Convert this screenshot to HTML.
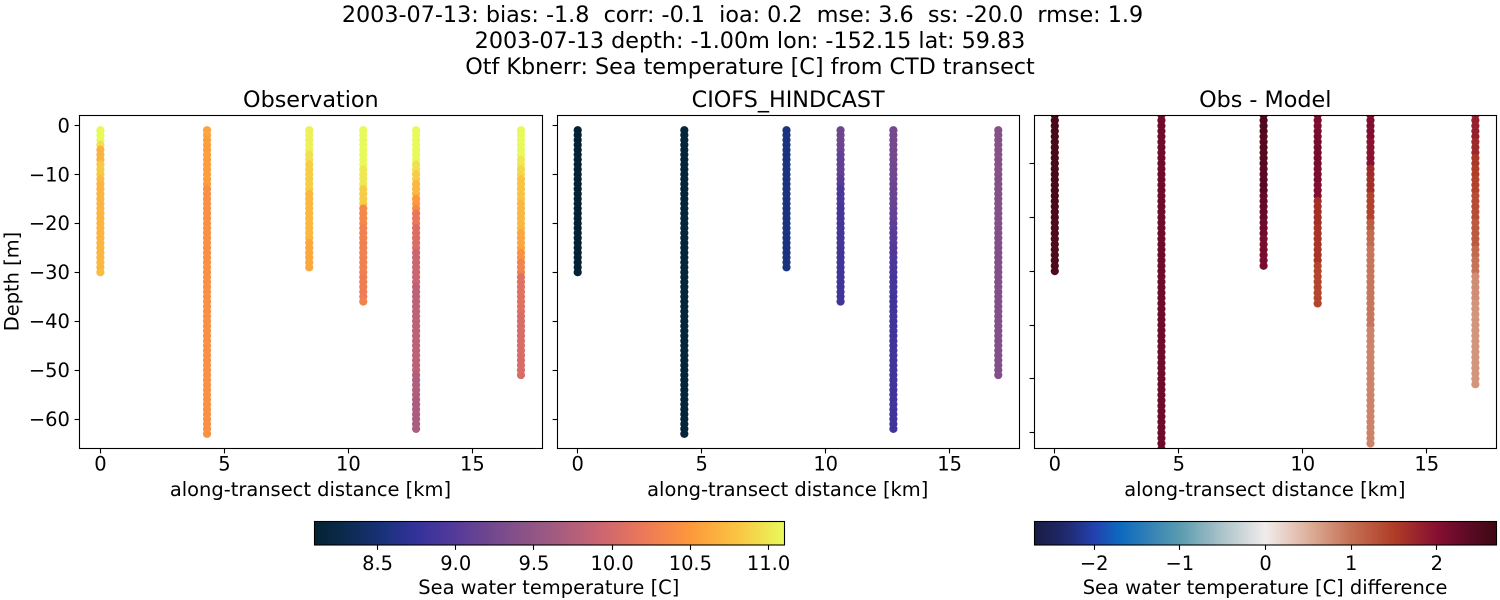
<!DOCTYPE html>
<html lang="en">
<head>
<meta charset="utf-8">
<title>CTD transect comparison</title>
<style>
html,body{margin:0;padding:0;background:#fff;width:1500px;height:600px;overflow:hidden}
svg{display:block}
text{font-family:"DejaVu Sans","Liberation Sans",sans-serif;fill:#000;white-space:pre}
</style>
</head>
<body>
<svg id="chart" xmlns="http://www.w3.org/2000/svg" width="1500" height="600" viewBox="0 0 1500 600">
  <rect width="1500" height="600" fill="#fff"/>
  <text x="742.5" y="22" text-anchor="middle" font-size="22.28" xml:space="preserve">2003-07-13: bias: -1.8  corr: -0.1  ioa: 0.2  mse: 3.6  ss: -20.0  rmse: 1.9</text>
  <text x="750" y="48" text-anchor="middle" font-size="22.28">2003-07-13 depth: -1.00m lon: -152.15 lat: 59.83</text>
  <text x="750" y="74" text-anchor="middle" font-size="22.28">Otf Kbnerr: Sea temperature [C] from CTD transect</text>
  <g id="panels"></g>
  <g id="bars"></g>
</svg>
<script>
const stationKm = [0, 4.3, 8.42, 10.6, 12.73, 16.96];

const obsStation0 = [11.1,11.1,11.1,10.95,10.68,10.68,10.68,10.83,10.83,10.83,
  10.75,10.7,10.7,10.7,10.7,10.7,10.7,10.7,10.7,10.7,
  10.7,10.7,10.7,10.7,10.7,10.7,10.7,10.72,10.72,10.75];
const obsStation1 = [10.58,10.58,10.53,10.53,10.53,10.53,10.53,10.53,10.53,10.53,
  10.53,10.53,10.42,10.42,10.42,10.42,10.42,10.42,10.42,10.42,
  10.42,10.42,10.42,10.42,10.42,10.42,10.42,10.42,10.42,10.42,
  10.42,10.42,10.42,10.42,10.42,10.42,10.42,10.42,10.42,10.42,
  10.42,10.42,10.42,10.42,10.42,10.42,10.42,10.42,10.42,10.42,
  10.42,10.42,10.42,10.42,10.42,10.42,10.42,10.42,10.42,10.42,
  10.42,10.42,10.42];
const obsStation2 = [11.05,11.05,11.05,11.05,11.05,10.95,10.95,10.85,10.85,10.85,
  10.85,10.85,10.85,10.72,10.72,10.72,10.72,10.72,10.72,10.72,
  10.72,10.72,10.72,10.6,10.6,10.6,10.6,10.6,10.6];
const obsStation3 = [11.1,11.1,11.1,11.1,11.1,11.1,11.1,11.1,11,11,
  11,11,10.85,10.85,10.85,10.85,10.36,10.36,10.36,10.36,
  10.28,10.28,10.28,10.28,10.28,10.28,10.28,10.28,10.28,10.28,
  10.25,10.25,10.25,10.25,10.25,10.3];
const obsStation4 = [11.1,11.1,11.1,11.1,11.1,11.1,11.1,10.95,10.95,10.85,
  10.85,10.72,10.72,10.72,10.5,10.5,10.38,10.18,10.18,10.18,
  10.05,10.05,10.05,10.05,10.05,9.92,9.92,9.92,9.92,9.92,
  9.92,9.92,9.82,9.82,9.82,9.82,9.82,9.82,9.82,9.82,
  9.82,9.82,9.82,9.82,9.82,9.82,9.82,9.82,9.82,9.82,
  9.72,9.72,9.72,9.72,9.72,9.68,9.68,9.68,9.68,9.68,
  9.68,9.68];
const obsStation5 = [11.1,11.1,11.1,11.1,11.1,11.1,11,11,10.9,10.9,
  10.8,10.8,10.8,10.8,10.8,10.72,10.72,10.72,10.72,10.72,
  10.72,10.6,10.6,10.6,10.6,10.45,10.45,10.3,10.3,10.3,
  10.1,10.1,10.1,10.1,10.1,10.1,10.1,10.1,10.03,10.03,
  10.03,10.03,10.03,10.03,10.03,10.03,10.03,10.03,10.03,10.03,
  10.03];
const obsSeries = [obsStation0, obsStation1, obsStation2, obsStation3, obsStation4, obsStation5];

const modelStation0 = [8.1,8.1,8.1,8.1,8.1,8.1,8.1,8.1,8.1,8.1,
  8.1,8.1,8.1,8.1,8.1,8.1,8.1,8.1,8.1,8.1,
  8.1,8.1,8.1,8.1,8.1,8.1,8.1,8.1,8.1,8.1];
const modelStation1 = [8.15,8.15,8.15,8.15,8.15,8.15,8.15,8.15,8.15,8.15,
  8.15,8.15,8.15,8.15,8.15,8.15,8.15,8.15,8.15,8.15,
  8.15,8.15,8.15,8.15,8.15,8.15,8.15,8.15,8.15,8.15,
  8.15,8.15,8.15,8.15,8.15,8.15,8.15,8.15,8.15,8.15,
  8.15,8.15,8.15,8.15,8.15,8.15,8.15,8.15,8.15,8.15,
  8.15,8.15,8.15,8.15,8.15,8.15,8.15,8.15,8.15,8.15,
  8.15,8.15,8.15];
const modelStation2 = [8.55,8.55,8.55,8.55,8.55,8.55,8.55,8.55,8.55,8.55,
  8.55,8.55,8.55,8.55,8.55,8.55,8.55,8.55,8.55,8.55,
  8.55,8.55,8.55,8.55,8.55,8.55,8.55,8.55,8.55];
const modelStation3 = [9.2,9.2,9.2,9.2,9.2,9.1,9.1,9.1,9.1,9.1,
  9.03,9.03,8.93,8.93,8.93,8.93,8.88,8.88,8.88,8.88,
  8.88,8.88,8.88,8.88,8.88,8.85,8.85,8.85,8.85,8.85,
  8.85,8.85,8.85,8.85,8.85,8.85];
const modelStation4 = [9.25,9.25,9.25,9.25,9.25,9.25,9.25,9.22,9.22,9.22,
  9.22,9.18,9.18,9.18,9.18,9.15,9.15,9.12,9.12,9.08,
  9.08,9.03,9.03,9.03,8.97,8.97,8.97,8.92,8.92,8.92,
  8.87,8.87,8.87,8.87,8.84,8.84,8.84,8.84,8.84,8.84,
  8.84,8.84,8.84,8.84,8.84,8.84,8.84,8.84,8.84,8.84,
  8.84,8.84,8.84,8.84,8.84,8.84,8.84,8.84,8.84,8.84,
  8.84,8.84];
const modelStation5 = [9.4,9.4,9.4,9.4,9.4,9.4,9.4,9.4,9.4,9.4,
  9.38,9.38,9.38,9.38,9.38,9.38,9.38,9.38,9.38,9.38,
  9.38,9.36,9.36,9.36,9.36,9.36,9.36,9.36,9.36,9.36,
  9.36,9.36,9.36,9.36,9.36,9.36,9.36,9.36,9.36,9.36,
  9.36,9.36,9.36,9.36,9.36,9.36,9.36,9.36,9.36,9.36,
  9.36];
const modelSeries = [modelStation0, modelStation1, modelStation2, modelStation3, modelStation4, modelStation5];

const diffStation0 = [2.58,2.58,2.58,2.58,2.58,2.58,2.58,2.58,2.58,2.58,
  2.58,2.58,2.58,2.58,2.58,2.58,2.58,2.55,2.55,2.55,
  2.5,2.5,2.5,2.5,2.5,2.5,2.5,2.5,2.5,2.5];
const diffStation1 = [2.2,2.2,2.2,2.2,2.2,2.2,2.2,2.2,2.2,2.2,
  2.2,2.2,2.2,2.2,2.2,2.2,2.2,2.2,2.2,2.2,
  2.2,2.2,2.2,2.2,2.2,2.2,2.2,2.2,2.2,2.2,
  2.2,2.2,2.2,2.2,2.2,2.2,2.2,2.2,2.2,2.2,
  2.2,2.2,2.2,2.2,2.2,2.2,2.2,2.2,2.2,2.2,
  2.2,2.2,2.2,2.2,2.2,2.2,2.2,2.2,2.2,2.2,
  2.2,2.2,2.2];
const diffStation2 = [2.5,2.5,2.5,2.5,2.45,2.45,2.45,2.45,2.45,2.45,
  2.4,2.4,2.4,2.4,2.4,2.3,2.3,2.3,2.3,2.3,
  2.2,2.2,2.2,2.12,2.12,2.12,2.12,2.12,2.12];
const diffStation3 = [2.1,2.1,2.1,2.1,2.15,2.15,2.15,2.15,2.15,2.15,
  2.1,2.1,2.1,2.05,2.05,2.05,1.65,1.65,1.65,1.65,
  1.65,1.6,1.6,1.6,1.6,1.6,1.6,1.6,1.42,1.42,
  1.42,1.42,1.42,1.42,1.42,1.42];
const diffStation4 = [2.05,2.05,2.05,2.05,2.05,1.95,1.95,1.95,1.95,1.95,
  1.7,1.7,1.65,1.65,1.65,1.45,1.45,1.45,1.45,1.45,
  1.2,1.2,1.05,1.05,1.05,0.95,0.95,0.95,0.95,0.95,
  0.95,0.95,0.95,0.95,0.95,0.95,0.95,0.95,0.95,0.95,
  0.85,0.85,0.85,0.85,0.85,0.85,0.85,0.85,0.85,0.85,
  0.85,0.85,0.85,0.85,0.85,0.85,0.85,0.85,0.85,0.85,
  0.85,0.85];
const diffStation5 = [1.82,1.82,1.82,1.82,1.82,1.72,1.72,1.72,1.55,1.55,
  1.5,1.5,1.45,1.45,1.45,1.35,1.35,1.35,1.35,1.35,
  1.22,1.22,1.22,1.22,1.22,1.05,1.05,0.98,0.98,0.98,
  0.78,0.78,0.78,0.78,0.78,0.72,0.72,0.72,0.72,0.72,
  0.72,0.72,0.72,0.72,0.72,0.72,0.72,0.72,0.72,0.72,
  0.72];
const diffSeries = [diffStation0, diffStation1, diffStation2, diffStation3, diffStation4, diffStation5];

const xTickValues = [0, 5, 10, 15];
const xTickLabels = ['0', '5', '10', '15'];
const yTickValues = [0, -10, -20, -30, -40, -50, -60];
const yTickLabels = ['0', '\u221210', '\u221220', '\u221230', '\u221240', '\u221250', '\u221260'];
const diffYTickValues = [-10, -20, -30, -40, -50, -60];
const tempTickValues = [8.5, 9, 9.5, 10, 10.5, 11];
const tempTickLabels = ['8.5', '9.0', '9.5', '10.0', '10.5', '11.0'];
const diffTickValues = [-2, -1, 0, 1, 2];
const diffTickLabels = ['\u22122', '\u22121', '0', '1', '2'];

const thermalStops = [[0,3,35,51],[.08,13,44,85],[.15,26,50,125],[.22,52,50,155],[.3,85,58,153],[.4,122,76,140],[.5,158,90,130],[.6,200,100,115],[.7,236,120,88],[.8,253,152,60],[.9,250,196,66],[1,232,250,91]];
const balanceStops = [[0,24,28,67],[.07,32,42,110],[.13,35,65,175],[.185,12,105,190],[.315,90,155,175],[.41,175,197,203],[.5,241,236,235],[.59,222,178,158],[.685,197,112,84],[.78,175,60,38],[.87,135,15,50],[.935,95,10,38],[1,60,9,18]];

const NS = 'http://www.w3.org/2000/svg';
function make(parent, tag, attrs, text) {
  const el = document.createElementNS(NS, tag);
  for (const k in attrs) el.setAttribute(k, attrs[k]);
  if (text !== undefined) el.textContent = text;
  parent.appendChild(el);
  return el;
}
function linear(d0, d1, r0, r1) {
  return v => r0 + (v - d0) * (r1 - r0) / (d1 - d0);
}
function snap(p) {
  return Math.floor(p) + 0.5;
}
function cmap(stops, t) {
  t = Math.max(0, Math.min(1, t));
  for (let i = 1; i < stops.length; i++) {
    if (t <= stops[i][0]) {
      const a = stops[i - 1], b = stops[i], f = (t - a[0]) / (b[0] - a[0]);
      return 'rgb(' + [1, 2, 3].map(j => Math.round(a[j] + (b[j] - a[j]) * f)).join(',') + ')';
    }
  }
  const l = stops[stops.length - 1];
  return 'rgb(' + l[1] + ',' + l[2] + ',' + l[3] + ')';
}

const AX_TOP = 115.5, AX_BOTTOM = 448.5, AX_W = 462.9;

function drawPanel(cfg) {
  const root = document.getElementById('panels');
  const g = make(root, 'g', {});
  
  
  const right = cfg.left + AX_W;
  const sx = linear(-0.847, 17.82, cfg.left, right);
  const sy = linear(cfg.yMax, cfg.yMin, 115.3, 448);
  const clipId = cfg.name + '-clip';
  const defs = make(g, 'defs', {});
  const cp = make(defs, 'clipPath', { id: clipId });
  make(cp, 'rect', { x: cfg.frameLeft, y: AX_TOP, width: cfg.frameRight - cfg.frameLeft, height: AX_BOTTOM - AX_TOP });

  const marks = make(g, 'g', { 'clip-path': 'url(#' + clipId + ')' });
  cfg.series.forEach((vals, s) => {
    const sg = make(marks, 'g', {});
    
    
    vals.forEach((v, i) => {
      const c = make(sg, 'circle', { cx: sx(stationKm[s]).toFixed(2), cy: sy(-(i + 1)).toFixed(2), r: 4.1, fill: cfg.color(v) });
      
      
    });
  });

  const frame = make(g, 'rect', { x: cfg.frameLeft, y: AX_TOP, width: cfg.frameRight - cfg.frameLeft, height: AX_BOTTOM - AX_TOP, fill: 'none', stroke: '#000', 'stroke-width': 1.1 });
  
  

  xTickValues.forEach((v, i) => {
    const x = sx(v);
    const t = make(g, 'line', { x1: snap(x), x2: snap(x), y1: AX_BOTTOM, y2: AX_BOTTOM + 4.9, stroke: '#000', 'stroke-width': 1.1 });
    
    
    const l = make(g, 'text', { x: x, y: 470.5, 'text-anchor': 'middle', 'font-size': 19.45 }, xTickLabels[i]);
    
    
  });
  cfg.yTicks.forEach((v, i) => {
    const y = sy(v);
    const t = make(g, 'line', { x1: cfg.frameLeft - 4.9, x2: cfg.frameLeft, y1: snap(y), y2: snap(y), stroke: '#000', 'stroke-width': 1.1 });
    
    
    if (cfg.yLabels) {
      const l = make(g, 'text', { x: cfg.left - 9.5, y: y + 7, 'text-anchor': 'end', 'font-size': 19.45 }, cfg.yLabels[i]);
      
      
    }
  });

  const title = make(g, 'text', { x: cfg.left + AX_W / 2, y: 107, 'text-anchor': 'middle', 'font-size': 22.28 }, cfg.title);
  
  
  const xl = make(g, 'text', { x: cfg.left + AX_W / 2 - 0.4, y: 496, 'text-anchor': 'middle', 'font-size': 19.45 }, 'along-transect distance [km]');
  
  
  if (cfg.yLabels) {
    const yl = make(g, 'text', { x: 0, y: 0, transform: 'translate(18.5 281.5) rotate(-90)', 'text-anchor': 'middle', 'font-size': 19.45 }, 'Depth [m]');
    
    
  }
}

function drawColorbar(cfg) {
  const root = document.getElementById('bars');
  const g = make(root, 'g', {});
  
  
  const defs = make(g, 'defs', {});
  const grad = make(defs, 'linearGradient', { id: cfg.name + '-grad', x1: 0, x2: 1, y1: 0, y2: 0 });
  cfg.stops.forEach(s => {
    make(grad, 'stop', { offset: s[0], 'stop-color': 'rgb(' + s[1] + ',' + s[2] + ',' + s[3] + ')' });
  });
  const sx = linear(cfg.min, cfg.max, cfg.x0, cfg.x1);
  const r = make(g, 'rect', { x: snap(cfg.x0), y: 521.5, width: snap(cfg.x1) - snap(cfg.x0), height: 23.5, fill: 'url(#' + cfg.name + '-grad)', stroke: '#000', 'stroke-width': 1.1 });
  
  
  cfg.ticks.forEach((v, i) => {
    const x = sx(v);
    const t = make(g, 'line', { x1: snap(x), x2: snap(x), y1: 545, y2: 549.9, stroke: '#000', 'stroke-width': 1.1 });
    
    
    const l = make(g, 'text', { x: x, y: 570, 'text-anchor': 'middle', 'font-size': 19.45 }, cfg.labels[i]);
    
    
  });
  const lab = make(g, 'text', { x: (cfg.x0 + cfg.x1) / 2 - 0.4, y: 594, 'text-anchor': 'middle', 'font-size': 19.45 }, cfg.label);
  
  
}

const TEMP_MIN = 8.095, TEMP_MAX = 11.1, DIFF_MAX = 2.7;
const tempColor = v => cmap(thermalStops, (v - TEMP_MIN) / (TEMP_MAX - TEMP_MIN));
const diffColor = v => cmap(balanceStops, (v + DIFF_MAX) / (2 * DIFF_MAX));

drawPanel({ name: 'observation-panel', title: 'Observation', left: 79.4, frameLeft: 79.5, frameRight: 542.5, series: obsSeries, color: tempColor, yMin: -65.9, yMax: 2.04, yTicks: yTickValues, yLabels: yTickLabels });
drawPanel({ name: 'hindcast-panel', title: 'CIOFS_HINDCAST', left: 556.7, frameLeft: 557.5, frameRight: 1019.5, series: modelSeries, color: tempColor, yMin: -65.9, yMax: 2.04, yTicks: yTickValues, yLabels: null });
drawPanel({ name: 'difference-panel', title: 'Obs - Model', left: 1033.8, frameLeft: 1034.5, frameRight: 1496.5, series: diffSeries, color: diffColor, yMin: -62.84, yMax: -1.06, yTicks: diffYTickValues, yLabels: null });

drawColorbar({ name: 'temperature-colorbar', stops: thermalStops, min: TEMP_MIN, max: TEMP_MAX, x0: 314.2, x1: 784.2, ticks: tempTickValues, labels: tempTickLabels, label: 'Sea water temperature [C]' });
drawColorbar({ name: 'difference-colorbar', stops: balanceStops, min: -DIFF_MAX, max: DIFF_MAX, x0: 1034.2, x1: 1496.8, ticks: diffTickValues, labels: diffTickLabels, label: 'Sea water temperature [C] difference' });
</script>
</body>
</html>
